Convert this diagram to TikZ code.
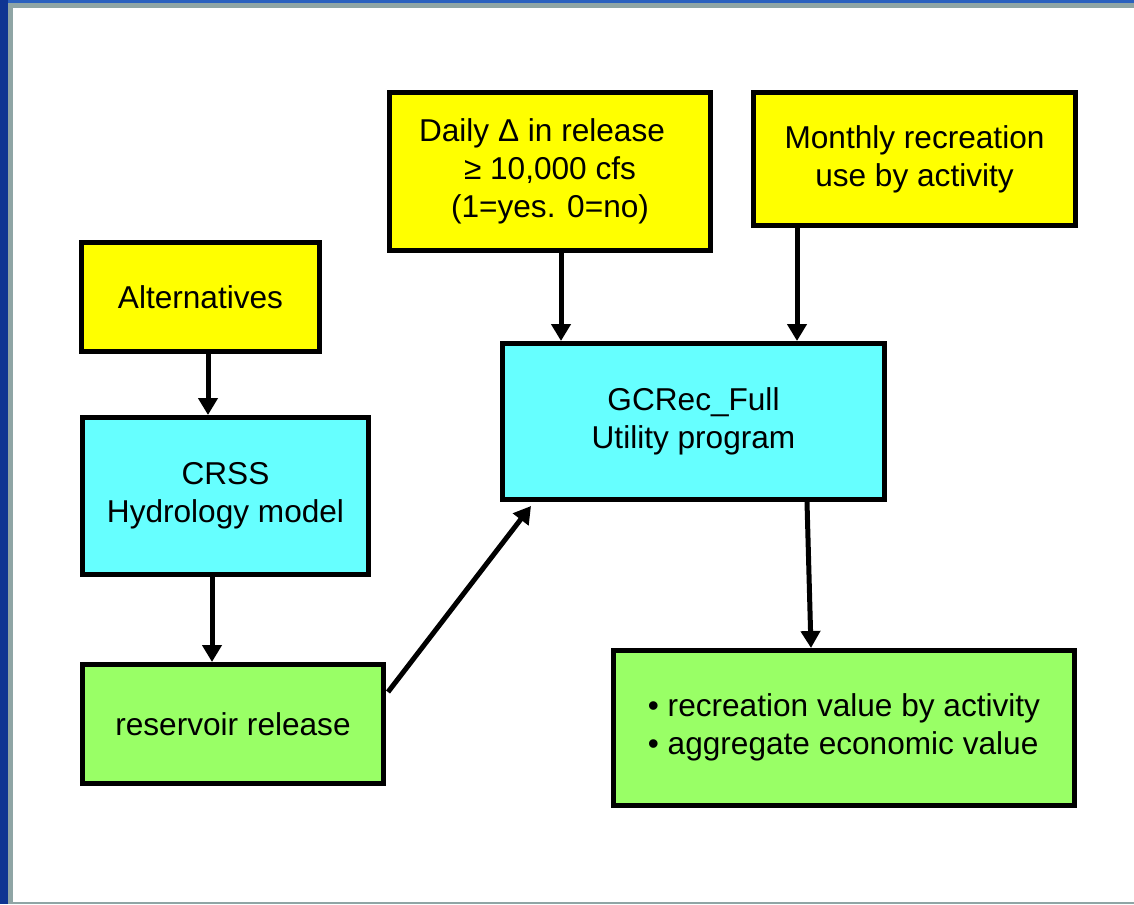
\documentclass[tikz,border=0pt]{standalone}
\usepackage{fontspec}
\setmainfont{Liberation Sans}
\usetikzlibrary{arrows.meta,calc}
\definecolor{frameblue}{HTML}{0F3592}
\definecolor{frametop}{HTML}{2A60BE}
\definecolor{framegray}{HTML}{8FA5A5}
\definecolor{boxyellow}{HTML}{FFFF00}
\definecolor{boxcyan}{HTML}{66FFFF}
\definecolor{boxgreen}{HTML}{99FF66}
\tikzset{
  box/.style={draw=black, line width=5pt, rectangle, inner sep=0pt, align=center,
    font=\fontsize{31.6}{38}\selectfont},
  inbox/.style={box, fill=boxyellow},
  modelbox/.style={box, fill=boxcyan},
  outbox/.style={box, fill=boxgreen},
  arr/.style={line width=5pt, -{Triangle[length=17pt,width=19pt]}}
}
\begin{document}
\begin{tikzpicture}[x=1pt,y=-1pt]
\useasboundingbox (0,0) rectangle (1134,904);
% slide frame
\fill[frameblue] (0,0) rectangle (1134,904);
\fill[frametop] (8,0) rectangle (1134,3);
\fill[framegray] (8,3) rectangle (1134,904);
\fill[white] (13,8) rectangle (1134,902);

% inputs
\node[inbox, minimum width=238pt, minimum height=109pt] (alt) at (200.5,297) {Alternatives};
\node[inbox, minimum width=321pt, minimum height=158pt] (daily) at (550,171.5)
  {Daily Δ in release\hspace*{16pt}\\ ≥ 10,000 cfs\\ (1=yes. 0=no)};
\node[inbox, minimum width=322pt, minimum height=133pt] (month) at (914.5,159)
  {Monthly recreation\\ use by activity};

% models
\node[modelbox, minimum width=286pt, minimum height=157pt] (crss) at (225.5,496)
  {CRSS\\ Hydrology model};
\node[modelbox, minimum width=382pt, minimum height=156pt] (gc) at (693.5,421.5)
  {GCRec\_Full\\ Utility program};

% outputs
\node[outbox, minimum width=301pt, minimum height=119pt] (res) at (233,724)
  {reservoir release};
\node[outbox, minimum width=461pt, minimum height=155pt] (out) at (844,728)
  {\begin{tabular}{@{}l@{}}• recreation value by activity\\ • aggregate economic value\end{tabular}};

% connectors
\draw[arr] ($(alt.south)+(7.5,0)$) coordinate (a1) -- (a1 |- crss.north);
\draw[arr] ($(crss.south)+(-13.5,0)$) coordinate (a2) -- (a2 |- res.north);
\draw[arr] ($(res.east)+(2,-32)$) -- ($(gc.south)+(-162.5,4)$);
\draw[arr] ($(daily.south)+(11,0)$) coordinate (a3) -- (a3 |- gc.north);
\draw[arr] ($(month.south)+(-117.5,0)$) coordinate (a4) -- (a4 |- gc.north);
\draw[arr] ($(gc.south)+(113.5,0)$) -- ($(out.north)+(-33,0)$);
\end{tikzpicture}
\end{document}
